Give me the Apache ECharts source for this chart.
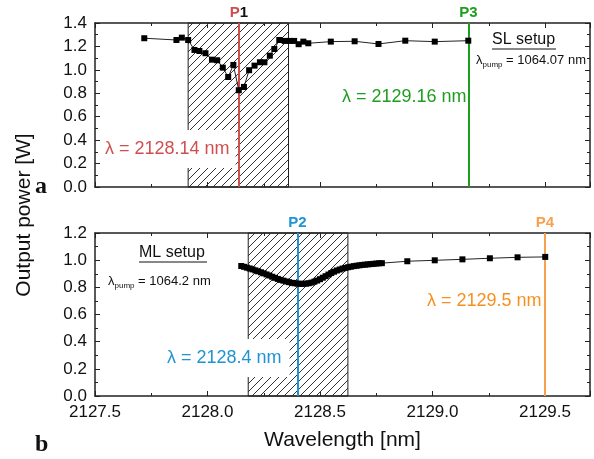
<!DOCTYPE html>
<html><head><meta charset="utf-8">
<script src="https://cdn.jsdelivr.net/npm/echarts@6/dist/echarts.min.js"></script>
<style>html,body{margin:0;padding:0;background:#fff}#c{width:594px;height:459px}</style>
</head><body><div id="c"></div>
<script>
// ---- data ----
const slWavelength = [2127.719,2127.862,2127.886,2127.914,2127.942,2127.964,2127.991,2128.020,2128.043,2128.068,2128.092,2128.115,2128.139,2128.162,2128.185,2128.209,2128.233,2128.253,2128.277,2128.297,2128.319,2128.343,2128.366,2128.385,2128.405,2128.426,2128.448,2128.548,2128.654,2128.760,2128.879,2129.010,2129.159];
const slPower = [1.270,1.255,1.275,1.255,1.170,1.161,1.142,1.087,1.082,1.019,0.939,1.042,0.826,0.854,0.997,1.036,1.065,1.065,1.121,1.178,1.255,1.247,1.247,1.247,1.219,1.241,1.227,1.241,1.244,1.221,1.249,1.241,1.249];
const mlWavelength = [2128.1500,2128.1625,2128.1750,2128.1875,2128.2000,2128.2125,2128.2250,2128.2375,2128.2500,2128.2625,2128.2750,2128.2875,2128.3000,2128.3125,2128.3250,2128.3375,2128.3500,2128.3625,2128.3750,2128.3875,2128.4000,2128.4125,2128.4250,2128.4375,2128.4500,2128.4625,2128.4750,2128.4875,2128.5000,2128.5125,2128.5250,2128.5375,2128.5500,2128.5625,2128.5750,2128.5875,2128.6000,2128.6125,2128.6250,2128.6375,2128.6500,2128.6625,2128.6750,2128.6875,2128.7000,2128.7125,2128.7250,2128.7375,2128.7500,2128.7625,2128.7750,2128.888,2129.010,2129.133,2129.255,2129.378,2129.501];
const mlPower = [0.957,0.951,0.945,0.939,0.932,0.925,0.918,0.911,0.903,0.895,0.887,0.878,0.870,0.862,0.855,0.849,0.843,0.838,0.833,0.830,0.827,0.826,0.826,0.827,0.830,0.835,0.842,0.850,0.860,0.871,0.882,0.894,0.905,0.915,0.924,0.931,0.938,0.943,0.948,0.952,0.956,0.959,0.962,0.965,0.967,0.969,0.971,0.973,0.975,0.977,0.978,0.992,0.999,1.006,1.014,1.021,1.024];
const slHatch = [2127.914, 2128.36];
const mlHatch = [2128.181, 2128.624];
const slMarks = [{name:'P', num:'1', value:2128.14}, {name:'P3', num:'', value:2129.16}];
const mlMarks = [{name:'P2', num:'', value:2128.4}, {name:'P4', num:'', value:2129.5}];
const xRange = [2127.5, 2129.7];
const slYRange = [0, 1.4];
const mlYRange = [0, 1.2];

const RED='#cf4f4f', GREEN='#1e9e1e', BLUE='#1f94d2', ORANGE='#f7901e';
const FONT='Liberation Sans';

function hatch(){
  const c=document.createElement('canvas');c.width=8;c.height=8;
  const g=c.getContext('2d');g.strokeStyle='#333';g.lineWidth=1;
  g.beginPath();g.moveTo(0,8);g.lineTo(8,0);g.moveTo(-2,2);g.lineTo(2,-2);g.moveTo(6,10);g.lineTo(10,6);g.stroke();
  return c;
}
const pat = {image: hatch(), repeat: 'repeat'};

function xAx(grid, pos, labels){
  return {type:'value', gridIndex:grid, position:pos, min:xRange[0], max:xRange[1], interval:0.5,
    axisLine:{onZero:false, lineStyle:{color:'#222', width:1.5}},
    axisTick:{inside:true, length:5, lineStyle:{color:'#222'}},
    minorTick:{show:true, splitNumber:2, length:3, lineStyle:{color:'#222'}},
    splitLine:{show:false},
    axisLabel:{show:labels, showMaxLabel:false, fontSize:17, color:'#111', fontFamily:FONT, margin:8, formatter:v=>v.toFixed(1)},
    name: labels ? 'Wavelength [nm]' : '', nameLocation:'middle', nameGap:34,
    nameTextStyle:{fontSize:21, color:'#111', fontFamily:FONT}
  };
}
function yAx(grid, pos, range, labels){
  return {type:'value', gridIndex:grid, position:pos, min:range[0], max:range[1], interval:0.2,
    axisLine:{show:true, onZero:false, lineStyle:{color:'#222', width:1.5}},
    axisTick:{show:true, inside:true, length:5, lineStyle:{color:'#222'}},
    minorTick:{show:true, splitNumber:2, length:3, lineStyle:{color:'#222'}},
    splitLine:{show:false},
    axisLabel:{show:labels, fontSize:17, color:'#111', fontFamily:FONT, margin:8, formatter:v=>v.toFixed(1)}
  };
}
function markLines(marks, colors){
  return {symbol:['none','none'], silent:true,
    data: marks.map((m,i)=>({xAxis:m.value, lineStyle:{color:colors[i], width:2, type:'solid'},
      label:{show:true, position:'end', distance:3, formatter: m.num ? '{p|'+m.name+'}{n|'+m.num+'}' : '{p|'+m.name+'}',
        rich:{p:{color:colors[i], fontWeight:'bold', fontSize:15, fontFamily:FONT}, n:{color:'#111', fontWeight:'bold', fontSize:15, fontFamily:FONT}}}}))
  };
}
function markArea(r){
  return {silent:true, itemStyle:{color:pat, borderColor:'#222', borderWidth:1}, data:[[{xAxis:r[0]},{xAxis:r[1]}]]};
}

const chart = echarts.init(document.getElementById('c'), null, {renderer:'canvas'});
const sub = (x,y,rest)=>({type:'text', x:x, y:y, z:100, style:{
  text:'{l|λ}{s|pump}{t| = '+rest+'}', fill:'#111', verticalAlign:'middle',
  rich:{l:{fontSize:13, lineHeight:18, fontFamily:FONT, verticalAlign:'middle'},
        s:{fontSize:8, lineHeight:9, fontFamily:FONT, verticalAlign:'bottom'},
        t:{fontSize:13, lineHeight:18, fontFamily:FONT, verticalAlign:'middle'}}}});

chart.setOption({
  animation:false,
  textStyle:{fontFamily:FONT},
  grid:[{left:95, right:4, top:23, height:164}, {left:95, right:4, top:233, height:163}],
  xAxis:[xAx(0,'bottom',false), xAx(0,'top',false), xAx(1,'bottom',true), xAx(1,'top',false)],
  yAxis:[yAx(0,'left',slYRange,true), yAx(0,'right',slYRange,false), yAx(1,'left',mlYRange,true), yAx(1,'right',mlYRange,false)],
  series:[
    {type:'line', xAxisIndex:0, yAxisIndex:0, data:slWavelength.map((x,i)=>[x,slPower[i]]),
      symbol:'rect', symbolSize:6, showSymbol:true, itemStyle:{color:'#000'}, lineStyle:{color:'#222', width:1}, z:5,
      markArea:markArea(slHatch), markLine:markLines(slMarks,[RED,GREEN])},
    {type:'line', xAxisIndex:2, yAxisIndex:2, data:mlWavelength.map((x,i)=>[x,mlPower[i]]),
      symbol:'rect', symbolSize:6, showSymbol:true, itemStyle:{color:'#000'}, lineStyle:{color:'#222', width:1}, z:5,
      markArea:markArea(mlHatch), markLine:markLines(mlMarks,[BLUE,'#f7a050'])}
  ],
  graphic:[
    {type:'text', x:101, y:149, z:100, style:{text:'λ = 2128.14 nm', fill:RED, font:'18px '+FONT, verticalAlign:'middle', backgroundColor:'#fff', padding:[9,6,9,4], lineHeight:20}},
    {type:'text', x:342, y:97, z:100, style:{text:'λ = 2129.16 nm', fill:GREEN, font:'18px '+FONT, verticalAlign:'middle'}},
    {type:'text', x:163, y:358, z:100, style:{text:'λ = 2128.4 nm', fill:BLUE, font:'18px '+FONT, verticalAlign:'middle', backgroundColor:'#fff', padding:[9,8,9,4], lineHeight:20}},
    {type:'text', x:427, y:301, z:100, style:{text:'λ = 2129.5 nm', fill:ORANGE, font:'18px '+FONT, verticalAlign:'middle'}},
    {type:'text', x:492, y:40, z:100, style:{text:'SL setup', fill:'#111', font:'16px '+FONT, verticalAlign:'middle'}},
    {type:'line', z:100, shape:{x1:492, y1:49, x2:556, y2:49}, style:{stroke:'#111', lineWidth:1}},
    sub(476, 60, '1064.07 nm'),
    {type:'text', x:139, y:253, z:100, style:{text:'ML setup', fill:'#111', font:'16px '+FONT, verticalAlign:'middle'}},
    {type:'line', z:100, shape:{x1:139, y1:262, x2:207, y2:262}, style:{stroke:'#111', lineWidth:1}},
    sub(108, 281, '1064.2 nm'),
    {type:'text', x:35, y:187, z:100, style:{text:'a', fill:'#111', font:'bold 24px "Liberation Serif"', verticalAlign:'middle'}},
    {type:'text', x:35, y:445, z:100, style:{text:'b', fill:'#111', font:'bold 24px "Liberation Serif"', verticalAlign:'middle'}},
    {type:'text', x:24, y:215, rotation:Math.PI/2, z:100, style:{text:'Output power [W]', fill:'#111', font:'21px '+FONT, align:'center', verticalAlign:'middle'}}
  ]
});
</script></body></html>
